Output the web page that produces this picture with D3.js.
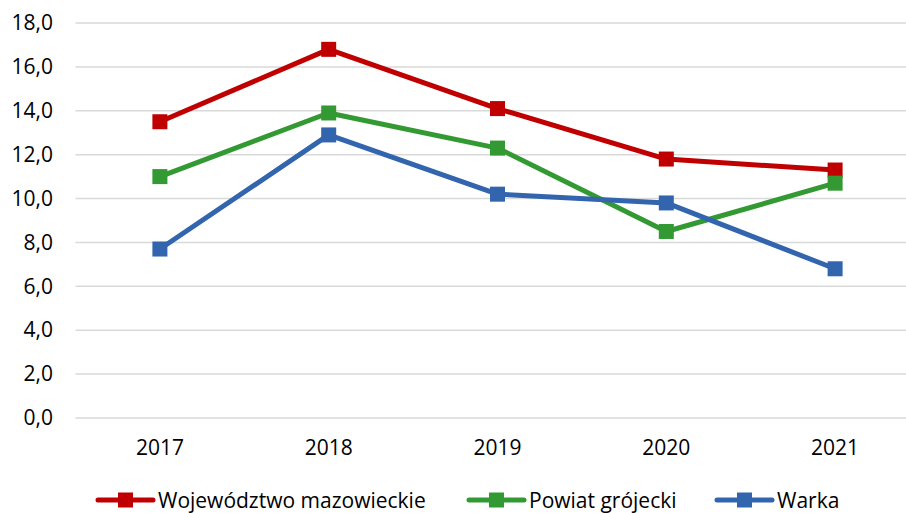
<!DOCTYPE html>
<html>
<head>
<meta charset="utf-8">
<script src="https://cdn.jsdelivr.net/npm/d3@7"></script>
<style>
  html, body { margin: 0; padding: 0; background: #fff; }
  svg { display: block; font-family: "Open Sans", Lato, sans-serif; }
</style>
</head>
<body>
<svg id="chart" width="906" height="513"></svg>
<script>
// Years on the x axis
const years = ["2017", "2018", "2019", "2020", "2021"];

// Series values per year
const mazowieckie = [13.5, 16.8, 14.1, 11.8, 11.3];
const grojecki = [11.0, 13.9, 12.3, 8.5, 10.7];
const warka = [7.7, 12.9, 10.2, 9.8, 6.8];

// Y axis ticks
const yTicks = [0, 2, 4, 6, 8, 10, 12, 14, 16, 18];

const seriesNames = ["Województwo mazowieckie", "Powiat grójecki", "Warka"];
const seriesColors = ["#C00000", "#339933", "#3265AD"];
const seriesValues = [mazowieckie, grojecki, warka];

const fontFamily = "'Open Sans', Lato, sans-serif";
const fontSize = 21;

const svg = d3.select("#chart");

const x = d3.scaleBand().domain(years).range([75.5, 919.5]);
const y = d3.scaleLinear().domain([0, 18]).range([418, 23]);
const fmt = v => v.toFixed(1).replace(".", ",");

// Horizontal gridlines
svg.append("g")
  .selectAll("line")
  .data(yTicks)
  .join("line")
  .attr("x1", 75.5).attr("x2", 919.5)
  .attr("y1", d => y(d)).attr("y2", d => y(d))
  .attr("stroke", "#d9d9d9").attr("stroke-width", 1.5);

// Y axis labels
const yAxis = d3.axisLeft(y).tickValues(yTicks).tickFormat(fmt).tickSize(0).tickPadding(0);
svg.append("g")
  .attr("transform", "translate(53,0)")
  .call(yAxis)
  .call(g => g.select(".domain").remove())
  .call(g => g.selectAll("text")
    .attr("font-size", fontSize).attr("fill", "#000")
    .attr("font-family", fontFamily));

// X axis labels
const xAxis = d3.axisBottom(x).tickSize(0).tickPadding(0);
svg.append("g")
  .attr("transform", "translate(0,440)")
  .call(xAxis)
  .call(g => g.select(".domain").remove())
  .call(g => g.selectAll("text")
    .attr("font-size", fontSize).attr("fill", "#000")
    .attr("font-family", fontFamily));

const cx = d => x(d) + x.bandwidth() / 2;
const line = d3.line().x((d, i) => cx(years[i])).y(d => y(d));
const m = 15;

// Lines and square markers for each series
seriesValues.forEach((vals, si) => {
  const g = svg.append("g");
  g.append("path")
    .datum(vals)
    .attr("d", line)
    .attr("fill", "none")
    .attr("stroke", seriesColors[si])
    .attr("stroke-width", 5)
    .attr("stroke-linejoin", "round")
    .attr("stroke-linecap", "round");
  g.selectAll("rect")
    .data(vals)
    .join("rect")
    .attr("x", (d, i) => cx(years[i]) - m / 2)
    .attr("y", d => y(d) - m / 2)
    .attr("width", m).attr("height", m)
    .attr("fill", seriesColors[si]);
});

// Legend
const legendX = [98, 469, 717];
const legendY = 500;
const lg = svg.append("g");
seriesNames.forEach((name, i) => {
  const g = lg.append("g").attr("transform", `translate(${legendX[i]},${legendY})`);
  g.append("line")
    .attr("x1", 0).attr("x2", 55)
    .attr("y1", 0).attr("y2", 0)
    .attr("stroke", seriesColors[i]).attr("stroke-width", 5)
    .attr("stroke-linecap", "round");
  g.append("rect")
    .attr("x", 27.5 - m / 2).attr("y", -m / 2)
    .attr("width", m).attr("height", m)
    .attr("fill", seriesColors[i]);
  g.append("text")
    .attr("x", 60).attr("y", 1)
    .attr("dy", "0.35em")
    .attr("font-size", fontSize)
    .attr("fill", "#000")
    .attr("font-family", fontFamily)
    .text(name);
});
</script>
</body>
</html>
